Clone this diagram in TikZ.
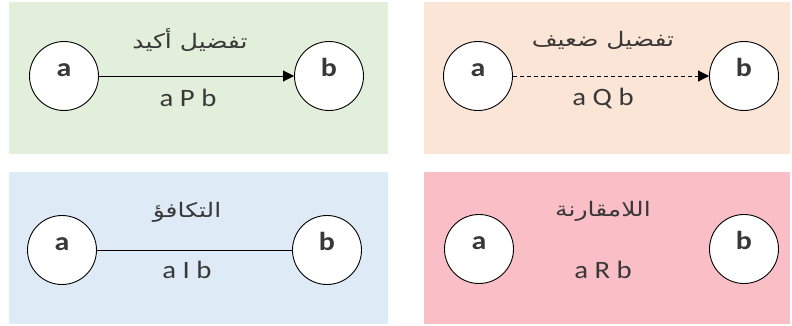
\documentclass[tikz,border=0pt]{standalone}
\usepackage{fontspec}
\setmainfont{Carlito}[FakeStretch=1.15]
\newfontfamily\arabicfont[Script=Arabic,FakeStretch=1.25]{DejaVu Sans}
\TeXXeTstate=1
\usetikzlibrary{arrows.meta}
\definecolor{pgreen}{HTML}{E2EFDA}
\definecolor{ppeach}{HTML}{FBE5D6}
\definecolor{pblue}{HTML}{DEEBF7}
\definecolor{ppink}{HTML}{FABEC7}
\definecolor{txt}{HTML}{383838}
\tikzset{
  panel/.style={draw=none, minimum width=379pt, minimum height=152pt, inner sep=0pt},
  vertex/.style={circle, draw=black, fill=white, line width=0.9pt, minimum size=69pt, inner sep=0pt,
    text height=9pt, text depth=9pt,
    font=\fontsize{26}{28}\selectfont\bfseries, text=txt},
  rel/.style={font=\fontsize{25}{27}\selectfont, text=txt},
  ttl/.style={font=\arabicfont\fontsize{20}{24}\selectfont, text=txt},
  link/.style={line width=0.9pt, draw=black},
}
\begin{document}
\begin{tikzpicture}[x=1pt,y=-1pt]
\useasboundingbox (0,0) rectangle (792,325);
% background panels
\node[panel, fill=pgreen] (p1) at (198.5,78) {};
\node[panel, fill=ppeach, minimum width=366pt] (p2) at (607,78) {};
\node[panel, fill=pblue] (p3) at (198.5,248) {};
\node[panel, fill=ppink, minimum width=366pt] (p4) at (607,248) {};
% strong preference
\node[vertex] (a1) at (64,76) {a};
\node[vertex] (b1) at (329,76) {b};
\draw[link, -{Triangle[length=11pt,width=11pt]}] (a1) -- (b1);
\node[ttl] (t1) at (190,40) {\beginR تفضيل أكيد\endR};
\node[rel] (r1) at (188,98) {a P b};
% weak preference
\node[vertex] (a2) at (478,76) {a};
\node[vertex] (b2) at (744,76) {b};
\draw[link, dashed, dash pattern=on 4pt off 3pt, -{Triangle[length=11pt,width=11pt]}] (a2) -- (b2);
\node[ttl] (t2) at (603,40) {\beginR تفضيل ضعيف\endR};
\node[rel] (r2) at (603,98) {a Q b};
% indifference
\node[vertex] (a3) at (62,250) {a};
\node[vertex] (b3) at (327,250) {b};
\draw[link] (a3) -- (b3);
\node[ttl] (t3) at (187,212) {\beginR التكافؤ\endR};
\node[rel] (r3) at (187,270) {a I b};
% incomparability
\node[vertex] (a4) at (479,249) {a};
\node[vertex] (b4) at (744,249) {b};
\node[ttl] (t4) at (603,211) {\beginR اللامقارنة\endR};
\node[rel] (r4) at (603,270) {a R b};
\end{tikzpicture}
\end{document}
